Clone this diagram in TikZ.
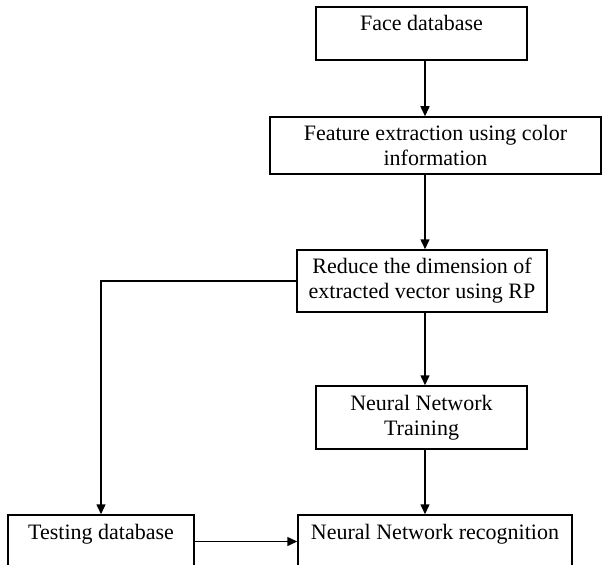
\documentclass[tikz,border=0pt]{standalone}
\usepackage{fontspec}
\setmainfont{Liberation Serif}
\usepackage{tikz}
\usetikzlibrary{arrows.meta}

\begin{document}
\begin{tikzpicture}[x=1pt,y=-1pt,
        blok/.style={draw, line width=1.5pt, align=center, inner xsep=0pt,
            font=\fontsize{22}{25}\selectfont},
        topblok/.style={blok, inner ysep=9pt, text height=15pt, text depth=20pt},
        flow/.style={-{Triangle[length=10pt,width=9pt]}, line width=1.5pt}]
            \clip (0,0) rectangle (604,564);
            \coordinate (col) at (425,0);

            \node[topblok, minimum width=211pt] (face) at (421.5,33.5) {Face database};
            \node[blok, minimum width=331pt, minimum height=57pt] (feature) at (435.5,145.5)
                {Feature extraction using color\\information};
            \node[blok, minimum width=250pt, minimum height=62pt] (reduce) at (422,281)
                {Reduce the dimension of\\extracted vector using RP};
            \node[blok, minimum width=211pt, minimum height=63pt] (training) at (421.5,417.5)
                {Neural Network\\Training};
            \node[topblok, minimum width=186pt] (testing) at (101,541.5) {Testing database};
            \node[topblok, minimum width=274pt] (recog) at (435,541.5) {Neural Network recognition};

            \draw[flow] (face.south -| col) -- (feature.north -| col);
            \draw[flow] (feature.south -| col) -- (reduce.north -| col);
            \draw[flow] (reduce.south -| col) -- (training.north -| col);
            \draw[flow] (training.south -| col) -- (recog.north -| col);
            \draw[flow] (reduce.west) -| (testing.north);
            \draw[flow] (testing.east) -- (recog.west);
        \end{tikzpicture}
\end{document}
